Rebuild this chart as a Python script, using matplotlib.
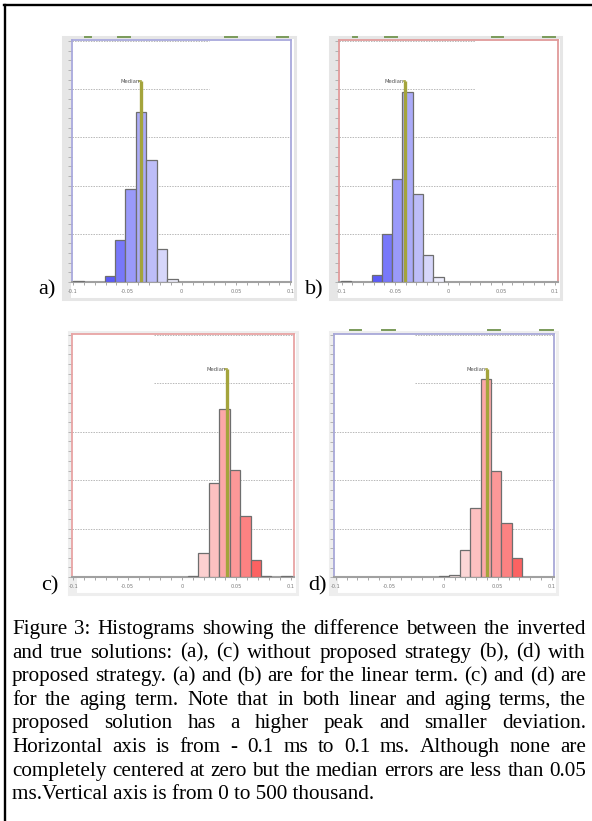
import matplotlib
matplotlib.use('Agg')
import matplotlib.pyplot as plt
from matplotlib.patches import Rectangle
from matplotlib.lines import Line2D
from matplotlib.ticker import MultipleLocator

# ---------------- data ----------------
x_ticks = [-0.1, -0.05, 0.0, 0.05, 0.1]
x_tick_labels = ['-0.1', '-0.05', '0', '0.05', '0.1']
grid_levels = [100, 200, 300, 400, 500]          # thousand

# (a) linear term, without proposed strategy
a_left = [-0.0997, -0.0709, -0.0613, -0.0517, -0.0421, -0.0325, -0.0229, -0.0133]
a_counts = [3, 12, 88, 192, 352, 253, 69, 6]
a_median = -0.0377
# (b) linear term, with proposed strategy
b_left = [-0.1010, -0.0720, -0.0623, -0.0527, -0.0430, -0.0334, -0.0237, -0.0141]
b_counts = [2, 14, 99, 214, 394, 183, 57, 10]
b_median = -0.0402
# (c) aging term, without proposed strategy
c_left = [0.0052, 0.0149, 0.0246, 0.0342, 0.0439, 0.0535, 0.0631, 0.0727, 0.0914]
c_counts = [2, 49, 194, 348, 221, 127, 35, 2, 3]
c_median = 0.0411
# (d) aging term, with proposed strategy
d_left = [-0.0043, 0.0053, 0.0149, 0.0245, 0.0341, 0.0437, 0.0533, 0.0629]
d_counts = [3, 5, 57, 143, 410, 220, 112, 39]
d_median = 0.0404

median_label = 'Median'
panel_labels = ['a)', 'b)', 'c)', 'd)']
caption_lines = [
    "Figure 3: Histograms showing the difference between the inverted",
    "and true solutions: (a), (c) without proposed strategy (b), (d) with",
    "proposed strategy. (a) and (b) are for the linear term. (c) and (d) are",
    "for the aging term. Note that in both linear and aging terms, the",
    "proposed solution has a higher peak and smaller deviation.",
    "Horizontal axis is from - 0.1 ms to 0.1 ms. Although none are",
    "completely centered at zero but the median errors are less than 0.05",
    "ms.Vertical axis is from 0 to 500 thousand.",
]

# ---------------- figure ----------------
W, H = 592, 821
fig = plt.figure(figsize=(W / 100, H / 100), dpi=100)
fig.patch.set_facecolor('white')


def fx(x):
    return x / W


def fy(y):
    return 1 - y / H


# outer black border (left + top)
fig.add_artist(Line2D([fx(4.5), fx(4.5)], [fy(5), fy(821)], color='black', lw=1.7))
fig.add_artist(Line2D([fx(4), fx(592)], [fy(5.5), fy(5.5)], color='black', lw=1.7))

blues_a = ['#6a6af0', '#5c5cf8', '#7878fa', '#9a9afa', '#ababf8', '#bdbdf8', '#d6d6fa', '#eeeefc']
blues_b = ['#6a6af0', '#5c5cf8', '#7878fa', '#9a9afa', '#ababf8', '#bdbdf8', '#d6d6fa', '#eeeefc']
reds_c = ['#fce8e8', '#fcd0d0', '#fcc0c0', '#fca8a8', '#fc9898', '#fc8282', '#fc6262', '#fc5050', '#fc4444']
reds_d = ['#eeeeee', '#f8e4e4', '#fcd6d6', '#fcc0c0', '#fca8a8', '#fc9898', '#fc8282', '#fc6262']

panels = [
    dict(left=a_left, counts=a_counts, width=0.0096, median=a_median, mtop=416,
         frame=(72, 40, 291, 282), xlim=(-0.1009, 0.1006), fcol='#a8a8dc',
         gray=(63, 37, 295, 299), gcol='#e6e6e6', colors=blues_a,
         part=(None, 0.0247), label=(38, 294),
         green=[(85, 91), (118, 130), (225, 237), (277, 288)], gy=37),
    dict(left=b_left, counts=b_counts, width=0.0097, median=b_median, mtop=416,
         frame=(339.3, 40, 558.3, 282), xlim=(-0.1022, 0.1031), fcol='#e09a9a',
         gray=(330, 37, 561, 299), gcol='#e6e6e6', colors=blues_b,
         part=(None, 0.0246), label=(305, 294),
         green=[(353, 357), (385, 397), (492, 503), (543, 555)], gy=37),
    dict(left=c_left, counts=c_counts, width=0.0096, median=c_median, mtop=429,
         frame=(72, 334, 294.3, 577), xlim=(-0.1012, 0.1033), fcol='#e8a4a4',
         gray=(69, 332, 297, 594), gcol='#eeeeee', colors=reds_c,
         part=(-0.0255, None), label=(41, 590.5), green=[], gy=330),
    dict(left=d_left, counts=d_counts, width=0.0096, median=d_median, mtop=429,
         frame=(333.7, 334, 554.3, 577.3), xlim=(-0.1019, 0.1024), fcol='#a8a8d8',
         gray=(330, 332, 557, 594), gcol='#eeeeee', colors=reds_d,
         part=(-0.0266, None), label=(308, 590.5),
         green=[(350, 361), (382, 395), (488, 500), (540, 553)], gy=330),
]

for p, lab in zip(panels, panel_labels):
    gx0, gy0, gx1, gy1 = p['gray']
    fig.add_artist(Rectangle((fx(gx0), fy(gy1)), (gx1 - gx0) / W, (gy1 - gy0) / H,
                             transform=fig.transFigure, facecolor='white',
                             edgecolor=p['gcol'], lw=2.2, zorder=0))
    fig.add_artist(Rectangle((fx(gx0), fy(gy1)), 8 / W, (gy1 - gy0) / H,
                             transform=fig.transFigure, facecolor=p['gcol'],
                             edgecolor='none', zorder=0))
    for g0, g1 in p['green']:
        fig.add_artist(Line2D([fx(g0), fx(g1)], [fy(p['gy']), fy(p['gy'])],
                              color='#7a9a5a', lw=1.4, zorder=1))

    x0, y0, x1, y1 = p['frame']
    ax = fig.add_axes([fx(x0), fy(y1), (x1 - x0) / W, (y1 - y0) / H])
    ax.set_facecolor('white')
    ax.set_xlim(*p['xlim'])
    ax.set_ylim(0, 502)
    for s in ax.spines.values():
        s.set_color(p['fcol'])
        s.set_linewidth(1.3)
    ax.spines['bottom'].set_color('#a0a0a0')
    ax.spines['bottom'].set_linewidth(1.5)

    # grid lines
    xl, xr = p['xlim']
    for lv in grid_levels:
        if lv <= 300:
            ax.hlines(lv, xl, xr, colors='#b8b8b8', linestyles=(0, (1.5, 1.2)), lw=0.7, zorder=1)
        else:
            a0 = p['part'][0] if p['part'][0] is not None else xl
            a1 = p['part'][1] if p['part'][1] is not None else xr
            ax.hlines(lv, a0, a1, colors='#b8b8b8', linestyles=(0, (1.5, 1.2)), lw=0.7, zorder=1)

    ax.bar(p['left'], p['counts'], width=p['width'], align='edge', color=p['colors'],
           edgecolor='#6e6e6e', linewidth=0.9, zorder=3)

    m = p['median']
    ax.plot([m, m], [0, p['mtop']], color='#a4a43c', lw=2.4, zorder=4, solid_capstyle='butt')
    ax.plot([m - 0.0012, m], [p['mtop'], p['mtop']], color='#a4a43c', lw=1.2, zorder=4)
    ax.text(m - 0.0012, p['mtop'], median_label, ha='right', va='center',
            fontsize=3.8, color='#555555', zorder=5)

    ax.set_xticks(x_ticks)
    ax.set_xticklabels(x_tick_labels, fontsize=3.6, color='#777777')
    ax.xaxis.set_minor_locator(MultipleLocator(0.01))
    ax.tick_params(axis='x', which='both', direction='out', length=2.2, width=0.6,
                   color='#999999', pad=2.5)
    ax.set_yticks(list(range(0, 501, 20)))
    ax.set_yticklabels([])
    ax.tick_params(axis='y', which='both', direction='out', length=2.8, width=0.6,
                   color='#aaaaaa')

    lx, ly = p['label']
    fig.text(fx(lx), fy(ly), lab, family='Liberation Serif', fontsize=16,
             ha='left', va='baseline')

# ---------------- caption (justified) ----------------
renderer = fig.canvas.get_renderer()
left_px, right_px = 12, 586
base0, step = 634, 23.6


def measure(s, size):
    t = fig.text(0, 0, s, family='Liberation Serif', fontsize=size)
    w = t.get_window_extent(renderer).width
    t.remove()
    return w


# font size at which the longest justified line fits with natural spacing
ref_size = 14.0
fit = min(ref_size * (right_px - left_px) / measure(l, ref_size) for l in caption_lines[:-1])
cap_size = fit * 0.995

for i, line in enumerate(caption_lines):
    yb = fy(base0 + i * step)
    if i == len(caption_lines) - 1:
        fig.text(fx(left_px), yb, line, family='Liberation Serif', fontsize=cap_size,
                 ha='left', va='baseline')
        continue
    words = line.split(' ')
    widths = [measure(w, cap_size) for w in words]
    gap = (right_px - left_px - sum(widths)) / (len(words) - 1)
    x = left_px
    for w, wd in zip(words, widths):
        fig.text(fx(x), yb, w, family='Liberation Serif', fontsize=cap_size,
                 ha='left', va='baseline')
        x += wd + gap

fig.savefig('out.png', dpi=100, facecolor='white')
